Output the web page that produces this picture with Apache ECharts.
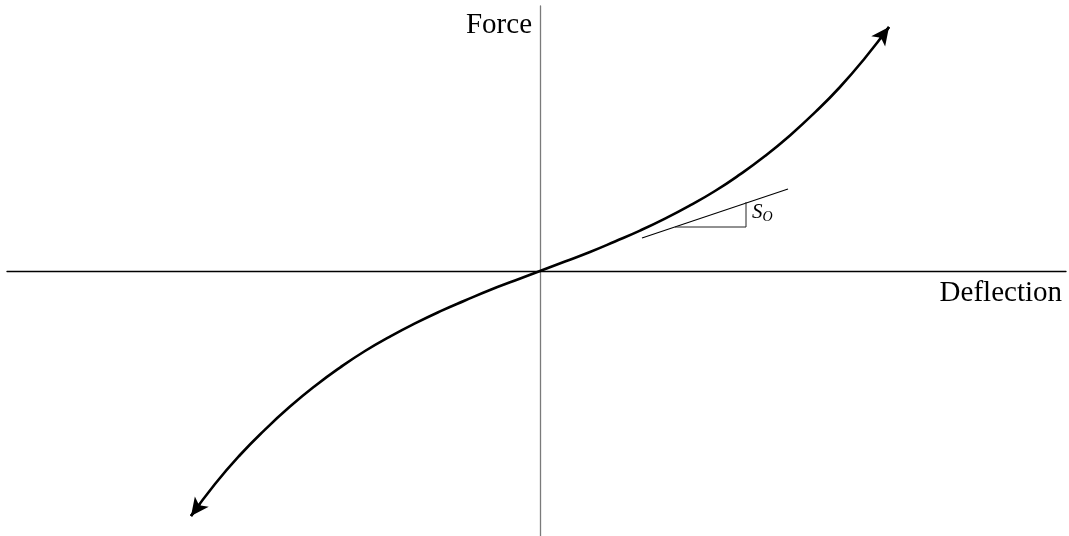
<!DOCTYPE html>
<html>
<head>
<meta charset="utf-8">
<script src="https://cdn.jsdelivr.net/npm/echarts@6/dist/echarts.min.js"></script>
<style>
  html, body { margin: 0; padding: 0; background: #fff; }
  #main { width: 1069px; height: 536px; }
</style>
</head>
<body>
<div id="main"></div>
<script>
// deflection / force curve (arbitrary units)
var deflection = [-3.49, -3.25, -3.00, -2.75, -2.50, -2.25, -2.00, -1.75, -1.50, -1.25, -1.00, -0.75, -0.50, -0.25, 0,
                  0.25, 0.50, 0.75, 1.00, 1.25, 1.50, 1.75, 2.00, 2.25, 2.50, 2.75, 3.00, 3.25, 3.49];
var force      = [-2.45, -2.13, -1.84, -1.586, -1.356, -1.15, -0.966, -0.80, -0.656, -0.524, -0.404, -0.295, -0.19, -0.095, 0,
                  0.095, 0.19, 0.295, 0.404, 0.524, 0.656, 0.80, 0.966, 1.15, 1.356, 1.586, 1.84, 2.13, 2.44];
// points just before the two ends, to aim the arrow heads
var arrowLow  = [[-3.40, -2.33], [-3.49, -2.45]];
var arrowHigh = [[3.40, 2.32], [3.49, 2.44]];
// tangent at the origin and the slope triangle
var tangentX = [1.02, 2.48];
var tangentY = [0.33, 0.82];
var triX = [1.35, 2.06, 2.06];
var triY = [0.44, 0.44, 0.69];

var curveData = [];
for (var i = 0; i < deflection.length; i++) {
  curveData.push([deflection[i], force[i]]);
}
var tangentData = [];
for (var i = 0; i < tangentX.length; i++) {
  tangentData.push([tangentX[i], tangentY[i]]);
}
var triData = [];
for (var i = 0; i < triX.length; i++) {
  triData.push([triX[i], triY[i]]);
}

var myChart = echarts.init(document.getElementById('main'));
var serif = '"Liberation Serif", "DejaVu Serif", serif';

var option = {
  animation: false,
  grid: { left: 7, right: 3, top: 6, bottom: 0 },
  xAxis: {
    type: 'value',
    min: -5.33,
    max: 5.26,
    axisLine: { onZero: true, lineStyle: { color: '#000', width: 1.3 } },
    axisTick: { show: false },
    axisLabel: { show: false },
    splitLine: { show: false }
  },
  yAxis: {
    type: 'value',
    min: -2.65,
    max: 2.65,
    axisLine: { show: true, onZero: true, lineStyle: { color: '#7a7a7a', width: 1.3 } },
    axisTick: { show: false },
    axisLabel: { show: false },
    splitLine: { show: false }
  },
  graphic: [
    {
      type: 'text', right: 1069 - 532, top: 11,
      style: { text: 'Force', font: '29px ' + serif, fill: '#000' }
    },
    {
      type: 'text', right: 7, top: 279,
      style: { text: 'Deflection', font: '29px ' + serif, fill: '#000' }
    },
    {
      type: 'text', left: 752, top: 202,
      style: {
        text: '{s|S}{o|O}',
        rich: {
          s: { fontFamily: serif, fontStyle: 'italic', fontSize: 21, fill: '#000' },
          o: { fontFamily: serif, fontStyle: 'italic', fontSize: 14, fill: '#000', padding: [9, 0, 0, 0] }
        }
      }
    }
  ],
  series: [
    {
      type: 'line',
      data: curveData,
      smooth: true,
      showSymbol: false,
      lineStyle: { color: '#000', width: 2.6 },
      markLine: {
        silent: true,
        symbol: ['none', 'arrow'],
        symbolSize: [13, 18],
        label: { show: false },
        lineStyle: { color: '#000', width: 2.6, type: 'solid' },
        data: [
          [{ coord: arrowLow[0] }, { coord: arrowLow[1] }],
          [{ coord: arrowHigh[0] }, { coord: arrowHigh[1] }]
        ]
      }
    },
    {
      type: 'line',
      data: tangentData,
      showSymbol: false,
      lineStyle: { color: '#000', width: 1.1 }
    },
    {
      type: 'line',
      data: triData,
      showSymbol: false,
      lineStyle: { color: '#222', width: 1 }
    }
  ]
};
myChart.setOption(option);
</script>
</body>
</html>
